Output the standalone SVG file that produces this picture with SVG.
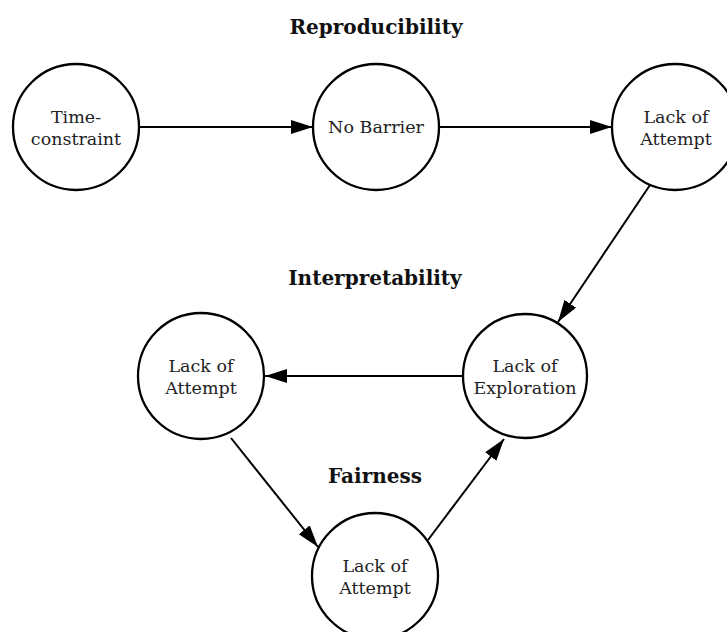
<svg xmlns="http://www.w3.org/2000/svg" width="727" height="632" viewBox="0 0 727 632">
<style>
.node circle{fill:#fff;stroke:#000;stroke-width:2.3}
.node text{font-family:"DejaVu Serif","Noto Serif",serif;font-size:17.5px;fill:#222;text-anchor:middle}
.title{font-family:"DejaVu Serif","Noto Serif",serif;font-size:20px;font-weight:bold;fill:#111;text-anchor:middle}
.edge{stroke:#000;stroke-width:2;fill:none;marker-end:url(#arr)}
</style>
<defs>
<marker id="arr" markerUnits="userSpaceOnUse" markerWidth="24" markerHeight="16" refX="22" refY="7" orient="auto">
<path d="M0,0 L22,7 L0,14 Z" fill="#000"/>
</marker>
</defs>
<rect width="727" height="632" fill="#fff"/>
<text class="title" x="376" y="34">Reproducibility</text>
<text class="title" x="375" y="285">Interpretability</text>
<text class="title" x="375" y="483">Fairness</text>
<g id="connectors">
<line class="edge" x1="140" y1="127" x2="313" y2="127"/>
<line class="edge" x1="439" y1="127" x2="612" y2="127"/>
<line class="edge" x1="650" y1="185" x2="558" y2="322"/>
<line class="edge" x1="463" y1="376" x2="265" y2="376"/>
<line class="edge" x1="231" y1="438" x2="318" y2="547"/>
<line class="edge" x1="428" y1="540" x2="504" y2="439"/>
</g>
<g id="n1" class="node"><circle cx="76" cy="127" r="63"/><text x="76" y="123">Time-</text><text x="76" y="145">constraint</text></g>
<g id="n2" class="node"><circle cx="376" cy="127" r="63"/><text x="376" y="133">No Barrier</text></g>
<g id="n3" class="node"><circle cx="675" cy="127" r="63"/><text x="676" y="123">Lack of</text><text x="676" y="145">Attempt</text></g>
<g id="n4" class="node"><circle cx="525" cy="376" r="62"/><text x="525" y="372">Lack of</text><text x="525" y="394">Exploration</text></g>
<g id="n5" class="node"><circle cx="201" cy="376" r="63"/><text x="201" y="372">Lack of</text><text x="201" y="394">Attempt</text></g>
<g id="n6" class="node"><circle cx="375" cy="576" r="63"/><text x="375" y="572">Lack of</text><text x="375" y="594">Attempt</text></g>
</svg>
